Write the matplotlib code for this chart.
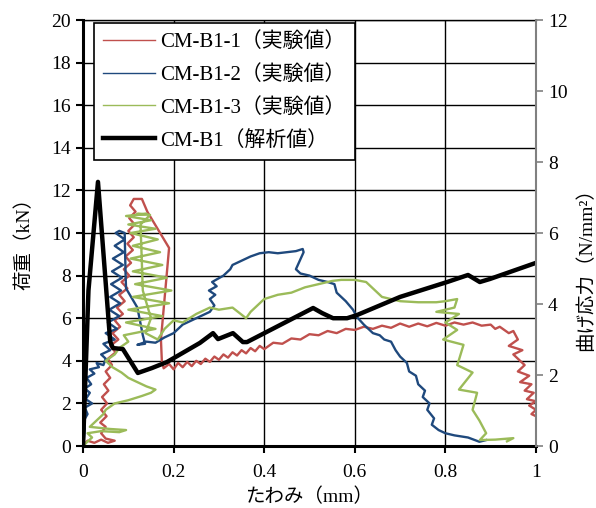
import matplotlib
matplotlib.use("Agg")
import matplotlib.pyplot as plt

plt.rcParams['font.family'] = ['Liberation Serif', 'Noto Sans CJK JP']

# CM-B1-1 (実験値)
x_cm1 = [0.000, 0.010, 0.025, 0.040, 0.055, 0.070, 0.050, 0.040, 0.050, 0.038, 0.052, 0.040,
         0.053, 0.042, 0.056, 0.046, 0.060, 0.050, 0.064, 0.055, 0.072, 0.060, 0.078, 0.065,
         0.082, 0.070, 0.088, 0.075, 0.092, 0.080, 0.098, 0.085, 0.102, 0.090, 0.106, 0.094,
         0.110, 0.098, 0.112, 0.100, 0.114, 0.102, 0.116, 0.104, 0.112, 0.130, 0.142, 0.190,
         0.172, 0.174, 0.178, 0.190, 0.200, 0.210, 0.220, 0.230, 0.240, 0.250, 0.260, 0.270,
         0.280, 0.290, 0.300, 0.310, 0.320, 0.330, 0.340, 0.350, 0.360, 0.370, 0.380, 0.390,
         0.400, 0.420, 0.440, 0.460, 0.480, 0.500, 0.520, 0.540, 0.560, 0.580,
         0.600, 0.620, 0.640, 0.660, 0.680, 0.700, 0.720, 0.740, 0.760, 0.780, 0.800, 0.820,
         0.840, 0.860, 0.880, 0.900, 0.910, 0.920, 0.940, 0.950, 0.960, 0.940, 0.970, 0.950,
         0.975, 0.960, 0.985, 0.965, 0.990, 0.975, 0.995, 0.980, 1.000, 0.985, 1.000, 0.990, 1.000]
y_cm1 = [0.00, 0.25, 0.15, 0.30, 0.15, 0.25, 0.35, 0.60, 0.90, 1.10, 1.40, 1.70,
         2.00, 2.30, 2.60, 2.90, 3.20, 3.50, 3.80, 4.10, 4.40, 4.70, 5.00, 5.30,
         5.60, 5.90, 6.20, 6.50, 6.80, 7.10, 7.40, 7.70, 8.00, 8.30, 8.60, 8.90,
         9.20, 9.50, 9.80, 10.10, 10.40, 10.70, 11.00, 11.30, 11.60, 11.60, 11.00, 9.30,
         5.00, 4.00, 3.65, 3.85, 3.60, 3.90, 3.70, 3.95, 3.75, 4.00, 3.85, 4.10,
         3.95, 4.20, 4.05, 4.30, 4.15, 4.40, 4.25, 4.50, 4.35, 4.60, 4.45, 4.70,
         4.55, 4.85, 4.80, 5.05, 5.00, 5.25, 5.20, 5.40, 5.30, 5.50,
         5.45, 5.60, 5.50, 5.65, 5.55, 5.75, 5.60, 5.75, 5.62, 5.78, 5.65, 5.80,
         5.70, 5.80, 5.65, 5.70, 5.50, 5.60, 5.30, 5.40, 5.00, 4.70, 4.50, 4.30,
         3.80, 3.50, 3.30, 3.00, 2.90, 2.60, 2.50, 2.20, 2.10, 1.90, 1.70, 1.50, 1.40]

# CM-B1-2 (実験値)
x_cm2 = [0.000, 0.004, 0.002, 0.010, 0.004, 0.020, 0.006, 0.015, 0.004, 0.018, 0.008, 0.025,
         0.015, 0.035, 0.030, 0.045, 0.050, 0.040, 0.060, 0.045, 0.070, 0.050, 0.075, 0.055,
         0.080, 0.058, 0.082, 0.060, 0.084, 0.062, 0.086, 0.064, 0.088, 0.066, 0.090, 0.070,
         0.092, 0.072, 0.080, 0.092, 0.094, 0.095, 0.120, 0.132, 0.137, 0.120, 0.140, 0.160,
         0.180, 0.200, 0.220, 0.240, 0.260, 0.280, 0.290, 0.280, 0.292, 0.278, 0.295, 0.285,
         0.310, 0.325, 0.330, 0.350, 0.370, 0.390, 0.410, 0.430, 0.450, 0.470, 0.485, 0.487,
         0.470, 0.480, 0.500, 0.520, 0.540, 0.555, 0.560, 0.580, 0.596, 0.605, 0.620, 0.640,
         0.655, 0.665, 0.680, 0.690, 0.700, 0.715, 0.720, 0.735, 0.740, 0.755, 0.750, 0.765,
         0.760, 0.775, 0.770, 0.785, 0.800, 0.820, 0.850, 0.875, 0.890]
y_cm2 = [0.00, 0.80, 1.20, 1.50, 1.80, 2.00, 2.20, 2.50, 2.70, 2.90, 3.20, 3.40,
         3.60, 3.70, 3.90, 3.80, 4.10, 4.30, 4.50, 4.80, 5.00, 5.30, 5.50, 5.80,
         6.10, 6.40, 6.70, 7.00, 7.30, 7.60, 7.90, 8.20, 8.50, 8.80, 9.10, 9.40,
         9.70, 10.00, 10.10, 10.00, 8.00, 7.40, 6.50, 5.20, 4.80, 4.75, 4.90, 4.85,
         5.10, 5.30, 5.70, 5.90, 6.10, 6.30, 6.60, 6.90, 7.10, 7.30, 7.50, 7.70,
         8.00, 8.30, 8.50, 8.70, 8.90, 9.05, 9.10, 9.05, 9.10, 9.15, 9.25, 9.10,
         8.30, 8.10, 8.00, 7.80, 7.70, 7.60, 7.20, 6.80, 6.40, 6.05, 5.70, 5.30,
         5.20, 5.00, 4.90, 4.50, 4.20, 3.90, 3.50, 3.30, 2.90, 2.60, 2.30, 2.00,
         1.70, 1.30, 1.00, 0.75, 0.60, 0.50, 0.40, 0.20, 0.28]

# CM-B1-3 (実験値)
x_cm3 = [0.000, 0.007, 0.020, 0.010, 0.040, 0.080, 0.095, 0.060, 0.015, 0.030, 0.045, 0.050,
         0.070, 0.100, 0.130, 0.150, 0.160, 0.140, 0.120, 0.100, 0.085, 0.065, 0.050, 0.070,
         0.080, 0.100, 0.090, 0.160, 0.095, 0.175, 0.100, 0.190, 0.110, 0.195, 0.115, 0.185,
         0.110, 0.175, 0.105, 0.170, 0.110, 0.165, 0.105, 0.160, 0.100, 0.150, 0.095, 0.140,
         0.120, 0.148, 0.127, 0.132, 0.150, 0.138, 0.165, 0.180, 0.200, 0.220, 0.250, 0.280,
         0.300, 0.330, 0.360, 0.370, 0.400, 0.430, 0.460, 0.490, 0.520, 0.550, 0.570, 0.600,
         0.625, 0.645, 0.660, 0.700, 0.740, 0.780, 0.800, 0.826, 0.820, 0.780, 0.830, 0.800,
         0.826, 0.795, 0.840, 0.830, 0.826, 0.860, 0.830, 0.870, 0.860, 0.875, 0.890, 0.876,
         0.910, 0.950, 0.936]
y_cm3 = [0.00, 0.15, 0.40, 0.60, 0.70, 0.65, 0.75, 0.80, 0.90, 1.20, 1.50, 1.70,
         2.00, 2.15, 2.35, 2.50, 2.65, 2.80, 3.00, 3.20, 3.45, 3.70, 4.00, 4.30,
         4.60, 4.90, 5.20, 5.50, 5.80, 6.10, 6.40, 6.70, 7.00, 7.30, 7.60, 7.90,
         8.20, 8.50, 8.80, 9.10, 9.40, 9.70, 10.00, 10.20, 10.40, 10.60, 10.80, 10.90,
         10.90, 10.85, 10.40, 7.30, 6.00, 5.30, 5.00, 5.50, 5.90, 5.80, 6.20, 6.50,
         6.40, 6.50, 6.00, 6.30, 6.90, 7.10, 7.20, 7.45, 7.60, 7.75, 7.80, 7.80,
         7.70, 7.30, 7.00, 6.80, 6.75, 6.75, 6.80, 6.90, 6.50, 6.30, 6.20, 5.80,
         5.45, 5.00, 4.75, 4.05, 3.80, 3.45, 2.65, 2.50, 1.70, 1.20, 0.60, 0.28,
         0.30, 0.37, 0.22]

# CM-B1 (解析値)
x_an = [0.000, 0.012, 0.033, 0.060, 0.066, 0.088, 0.121, 0.152, 0.185, 0.258, 0.287, 0.298,
        0.331, 0.353, 0.362, 0.508, 0.528, 0.552, 0.583, 0.605, 0.700, 0.804, 0.850, 0.876,
        0.898, 1.000]
y_an = [0.00, 7.30, 12.40, 4.90, 4.60, 4.55, 3.43, 3.66, 3.94, 4.84, 5.30, 5.02,
        5.30, 4.88, 4.88, 6.48, 6.24, 6.00, 6.00, 6.15, 7.00, 7.70, 8.03, 7.70,
        7.84, 8.60]

labels = ["CM-B1-1（実験値）", "CM-B1-2（実験値）", "CM-B1-3（実験値）", "CM-B1（解析値）"]
colors = ["#C0504D", "#1F497D", "#9BBB59", "black"]

fig = plt.figure(figsize=(5.96, 5.08), dpi=100)
ax = fig.add_axes([0.1393, 0.122, 0.760, 0.8386])

ax.plot(x_cm1, y_cm1, color=colors[0], lw=1.7, label=labels[0])
ax.plot(x_cm2, y_cm2, color=colors[1], lw=1.7, label=labels[1])
ax.plot(x_cm3, y_cm3, color=colors[2], lw=1.7, label=labels[2])
ax.plot(x_an, y_an, color=colors[3], lw=3.2, label=labels[3])

ax.set_xlim(0, 1)
ax.set_ylim(0, 20)
ax.set_xticks([0, 0.2, 0.4, 0.6, 0.8, 1.0])
ax.set_xticklabels(["0", "0.2", "0.4", "0.6", "0.8", "1"])
ax.set_yticks(range(0, 21, 2))
ax.grid(True, color="black", lw=1.0)
ax.set_axisbelow(True)

for s in ["left", "bottom"]:
    ax.spines[s].set_linewidth(2.2)
    ax.spines[s].set_color("black")
ax.spines["top"].set_linewidth(1.0)
ax.spines["right"].set_visible(False)
ax.tick_params(direction="out", length=5, width=1.5, labelsize=14, colors="black")
ax.tick_params(axis="x", pad=8)

ax.set_xlabel("たわみ（mm）", fontsize=14, labelpad=5)
ax.set_ylabel("荷重（kN）", fontsize=14)
ax.yaxis.set_label_coords(-0.11, 0.485)

ax2 = ax.twinx()
ax2.set_ylim(0, 12)
ax2.set_yticks(range(0, 13, 2))
for s in ["left", "bottom", "top"]:
    ax2.spines[s].set_visible(False)
ax2.spines["right"].set_color("#808080")
ax2.spines["right"].set_linewidth(1.5)
ax2.tick_params(direction="out", length=5, width=1.2, labelsize=14, color="#808080", labelcolor="black")
ax2.set_ylabel("曲げ応力（N/mm²）", fontsize=14)
ax2.yaxis.set_label_coords(1.09, 0.425)

leg = ax.legend(loc="upper left", bbox_to_anchor=(0.024, 0.993), fontsize=15, frameon=True,
                fancybox=False, edgecolor="black", framealpha=1, handlelength=2.5,
                handletextpad=0.25, borderpad=0.45, labelspacing=0.62, borderaxespad=0)
leg.get_frame().set_linewidth(1.2)
for h in leg.legend_handles[:3]:
    h.set_linewidth(1.0)

fig.savefig("out.png", dpi=100)
